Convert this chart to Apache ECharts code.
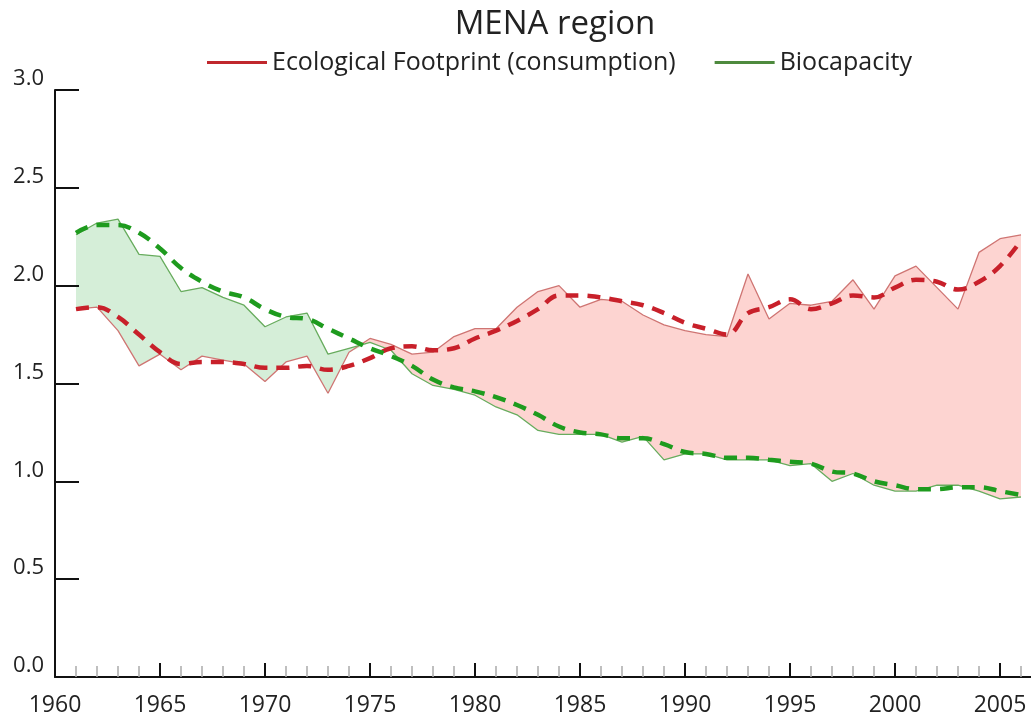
<!DOCTYPE html>
<html>
<head>
<meta charset="utf-8">
<script src="https://cdn.jsdelivr.net/npm/echarts@6/dist/echarts.min.js"></script>
<style>
  html, body { margin: 0; padding: 0; background: #fff; }
  #echart { width: 1031px; height: 725px; }
</style>
</head>
<body>
<div id="echart"></div>
<script>
// years on the x axis
let years = [1961, 1962, 1963, 1964, 1965, 1966, 1967, 1968, 1969, 1970,
    1971, 1972, 1973, 1974, 1975, 1976, 1977, 1978, 1979, 1980,
    1981, 1982, 1983, 1984, 1985, 1986, 1987, 1988, 1989, 1990,
    1991, 1992, 1993, 1994, 1995, 1996, 1997, 1998, 1999, 2000,
    2001, 2002, 2003, 2004, 2005, 2006]

// Ecological Footprint (consumption), gha per person
let footprint = [1.88, 1.89, 1.77, 1.59, 1.65, 1.57, 1.64, 1.62, 1.60, 1.51,
    1.61, 1.64, 1.45, 1.66, 1.73, 1.70, 1.65, 1.66, 1.74, 1.78,
    1.78, 1.89, 1.97, 2.00, 1.89, 1.93, 1.92, 1.85, 1.80, 1.77,
    1.75, 1.74, 2.06, 1.83, 1.91, 1.90, 1.92, 2.03, 1.88, 2.05,
    2.10, 1.99, 1.88, 2.17, 2.24, 2.26]

// Biocapacity
let biocapacity = [2.26, 2.32, 2.34, 2.16, 2.15, 1.97, 1.99, 1.94, 1.90, 1.79,
    1.84, 1.86, 1.65, 1.68, 1.71, 1.67, 1.55, 1.49, 1.47, 1.44,
    1.38, 1.34, 1.26, 1.24, 1.24, 1.24, 1.20, 1.23, 1.11, 1.14,
    1.14, 1.11, 1.11, 1.11, 1.08, 1.09, 1.00, 1.04, 0.98, 0.95,
    0.95, 0.98, 0.98, 0.95, 0.91, 0.92]

// dashed trend lines
let footprintTrend = [1.88, 1.89, 1.84, 1.75, 1.66, 1.60, 1.61, 1.61, 1.60, 1.58,
    1.58, 1.59, 1.57, 1.59, 1.63, 1.68, 1.69, 1.67, 1.68, 1.73,
    1.77, 1.82, 1.88, 1.95, 1.95, 1.94, 1.92, 1.90, 1.86, 1.81,
    1.78, 1.75, 1.86, 1.89, 1.93, 1.88, 1.91, 1.95, 1.94, 1.99,
    2.03, 2.02, 1.98, 2.02, 2.10, 2.23]

let biocapacityTrend = [2.27, 2.31, 2.31, 2.27, 2.19, 2.09, 2.02, 1.97, 1.94, 1.88,
    1.84, 1.83, 1.78, 1.73, 1.68, 1.64, 1.59, 1.52, 1.48, 1.46,
    1.43, 1.39, 1.34, 1.28, 1.25, 1.24, 1.22, 1.22, 1.19, 1.15,
    1.14, 1.12, 1.12, 1.11, 1.10, 1.09, 1.05, 1.04, 1.00, 0.98,
    0.96, 0.96, 0.97, 0.97, 0.95, 0.93]

let yTicks = [0, 0.5, 1, 1.5, 2, 2.5, 3]

let nameEF = 'Ecological Footprint (consumption)'
let nameBC = 'Biocapacity'

function pairs(vals) {
    return years.map((y, i) => [y, vals[i]])
}

// lower of the two curves; everything under it stays white
let lower = footprint.map((v, i) => Math.min(v, biocapacity[i]))

let echart = echarts.init(document.getElementById('echart'))

let font = 'Open Sans'

// filled area under a curve, no outline
function fill(name, vals, color) {
    return {
        name: name, type: 'line', data: pairs(vals),
        showSymbol: false, silent: true, z: 1,
        lineStyle: { opacity: 0 },
        areaStyle: { color: color, opacity: 1 }
    }
}

let option = {
    animation: false,
    title: {
        text: 'MENA region',
        left: 550,
        textAlign: 'center',
        top: 3,
        textStyle: { fontFamily: font, fontSize: 33, fontWeight: 'normal', color: '#222' }
    },
    legend: {
        left: 202,
        top: 45,
        itemWidth: 60,
        itemHeight: 3,
        itemGap: 39,
        icon: 'rect',
        selectedMode: false,
        textStyle: { fontFamily: font, fontSize: 25, color: '#222' },
        data: [
            { name: nameEF, itemStyle: { color: '#c0272d' } },
            { name: nameBC, itemStyle: { color: '#4e8a3e' } }
        ]
    },
    grid: { left: 55, right: -74, top: 90, bottom: 48, outerBoundsMode: 'none' },
    xAxis: {
        type: 'value',
        min: 1960,
        max: 2010,
        interval: 5,
        z: 10,
        splitLine: { show: false },
        axisLine: { lineStyle: { color: '#111', width: 2 } },
        axisTick: { inside: true, length: 14, lineStyle: { color: '#111', width: 2 } },
        minorTick: { show: true, splitNumber: 5, length: 11, lineStyle: { color: '#aaa', width: 1.5 } },
        axisLabel: { fontFamily: font, fontSize: 23, color: '#222', margin: 17, formatter: v => String(v) }
    },
    yAxis: {
        type: 'value',
        min: yTicks[0],
        max: yTicks[yTicks.length - 1],
        interval: 0.5,
        z: 10,
        splitLine: { show: false },
        axisLine: { show: true, lineStyle: { color: '#111', width: 2 } },
        axisTick: { show: true, inside: true, length: 24, lineStyle: { color: '#111', width: 2 } },
        axisLabel: {
            fontFamily: font, fontSize: 22, color: '#222', margin: 11,
            verticalAlign: 'bottom',
            formatter: v => v.toFixed(1)
        }
    },
    series: [
        // pink under footprint, green under biocapacity, white under the lower one
        fill('deficitFill', footprint, '#fdd4d1'),
        fill('reserveFill', biocapacity, '#d5eed8'),
        fill('clearFill', lower, '#ffffff'),
        // thin lines
        {
            name: nameEF, type: 'line', data: pairs(footprint),
            showSymbol: false, z: 3,
            lineStyle: { color: '#cf7573', width: 1.3 }, itemStyle: { color: '#c0272d' }
        },
        {
            name: nameBC, type: 'line', data: pairs(biocapacity),
            showSymbol: false, z: 3,
            lineStyle: { color: '#68ac5e', width: 1.3 }, itemStyle: { color: '#4e8a3e' }
        },
        // dashed trends
        {
            name: 'EF trend', type: 'line', data: pairs(footprintTrend),
            showSymbol: false, smooth: 0.4, z: 4,
            lineStyle: { color: '#c8202a', width: 4.5, type: [13, 9] }
        },
        {
            name: 'BC trend', type: 'line', data: pairs(biocapacityTrend),
            showSymbol: false, smooth: 0.4, z: 4,
            lineStyle: { color: '#1e9b1e', width: 4.5, type: [13, 9] }
        }
    ]
}

echart.setOption(option)
</script>
</body>
</html>
